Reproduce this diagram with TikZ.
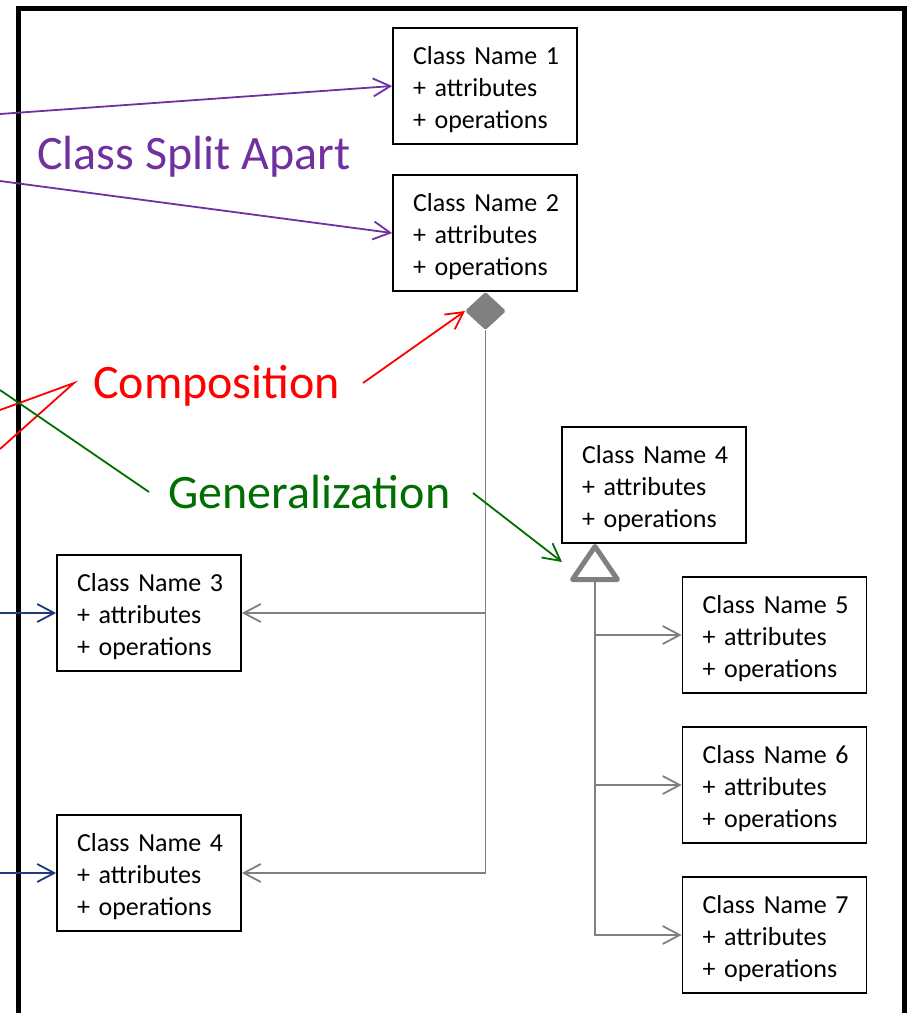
\documentclass[tikz,border=0pt]{standalone}
\usepackage{fontspec}
\setmainfont{Carlito}
\usetikzlibrary{arrows.meta,shapes.geometric}

\definecolor{umlgray}{HTML}{808080}
\definecolor{splitpurple}{HTML}{7030A0}
\definecolor{compred}{HTML}{FF0000}
\definecolor{gengreen}{HTML}{006E00}
\definecolor{assocblue}{HTML}{1F3A78}

% three-line class body; the strut evens out the top margin
\newcommand{\classtext}[1]{\rule{0pt}{25.5pt}Class~Name~#1\\+~attributes\\+~operations}

\tikzset{
  classbox/.style={draw=black, line width=1.8pt, fill=white,
    text width=144pt, inner xsep=20pt, inner ysep=0pt,
    minimum height=116pt, align=left,
    font=\fontsize{26}{32}\selectfont},
  callout/.style={inner sep=0pt, anchor=base west,
    font=\fontsize{48}{56}\selectfont},
  barb/.style={-{Straight Barb[length=17pt,width=18pt]}},
  conn/.style={line width=1.8pt, line cap=butt},
}

\begin{document}
\begin{tikzpicture}[x=1pt, y=-1pt]
\clip (0,0) rectangle (910,1013);
\useasboundingbox (0,0) rectangle (910,1013);

% outer frame, open at the bottom
\draw[line width=4.5pt] (18.5,1040) -- (18.5,8.5) -- (904.5,8.5) -- (904.5,1040);

% classes
\node[classbox] (c1)  at (485,86)    {\classtext{1}};
\node[classbox] (c2)  at (485,233)   {\classtext{2}};
\node[classbox] (c3)  at (149,613)   {\classtext{3}};
\node[classbox] (c4l) at (149,873)   {\classtext{4}};
\node[classbox] (c4r) at (654,485)   {\classtext{4}};
\node[classbox] (c5)  at (774.5,635) {\classtext{5}};
\node[classbox] (c6)  at (774.5,785) {\classtext{6}};
\node[classbox] (c7)  at (774.5,935) {\classtext{7}};

% composition diamond under Class Name 2
\node[diamond, fill=umlgray, draw=umlgray, line width=1pt, rounded corners=1.5pt,
      inner sep=0pt, minimum width=40pt, minimum height=37pt] (dia) at (485.5,311) {};

% composition tree
\draw[conn, draw=umlgray, barb] (dia.south) |- (c4l.east);
\draw[conn, draw=umlgray, barb] (dia.south |- c3.east) -- (c3.east);

% generalization triangle under Class Name 4
\coordinate (tapex) at (595,546.5);
\coordinate (tleft) at (572.5,579.5);
\coordinate (tright) at (617.5,579.5);
\coordinate (tbase) at (595,579.5);
\draw[line width=5pt, draw=umlgray, fill=white, line join=round]
  (tapex) -- (tright) -- (tleft) -- cycle;

% generalization tree
\draw[conn, draw=umlgray, barb] (tbase) |- (c7.west);
\draw[conn, draw=umlgray, barb] (tbase |- c5.west) -- (c5.west);
\draw[conn, draw=umlgray, barb] (tbase |- c6.west) -- (c6.west);

% incoming associations from the left
\coordinate (b3) at (0,613);
\coordinate (b4) at (0,873);
\draw[conn, draw=assocblue, barb] (b3) -- (c3.west);
\draw[conn, draw=assocblue, barb] (b4) -- (c4l.west);

% "Class Split Apart" callout
\node[callout, text=splitpurple] (lsplit) at (37,169) {Class Split Apart};
\coordinate (p1) at (0,114);
\coordinate (p2) at (0,181);
\draw[conn, draw=splitpurple, barb] (p1) -- (c1.west);
\draw[conn, draw=splitpurple, barb] (p2) -- (c2.west);

% "Composition" callout
\node[callout, text=compred] (lcomp) at (93,398) {Composition};
\coordinate (rv) at (74,383);
\coordinate (r1) at (0,410);
\coordinate (r2) at (0,449);
\draw[conn, draw=compred, line join=miter] (r1) -- (rv) -- (r2);
\coordinate (rs) at (363,383);
\draw[conn, draw=compred, barb] (rs) -- (dia.west);

% "Generalization" callout
\node[callout, text=gengreen] (lgen) at (168,508) {Generalization};
\coordinate (g0) at (0,390);
\coordinate (g1) at (149,492);
\draw[conn, draw=gengreen] (g0) -- (g1);
\coordinate (gs) at (473,493);
\coordinate (gt) at (562,562);
\draw[conn, draw=gengreen, barb] (gs) -- (gt);
\end{tikzpicture}
\end{document}
